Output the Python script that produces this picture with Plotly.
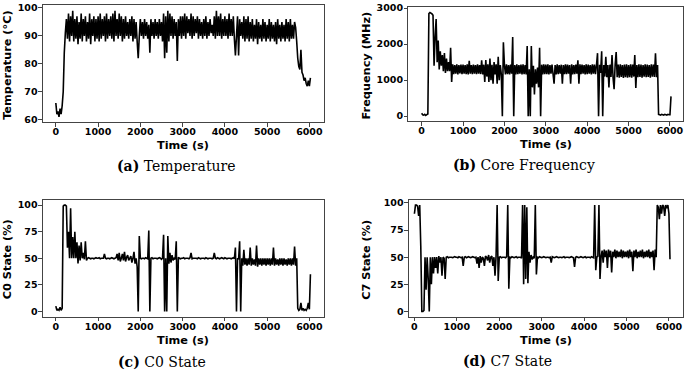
import plotly.graph_objects as go

# ---------------- data (sampled every 25 s) ----------------
STEP_S = 25

temperature = [
    66, 62, 63, 61, 64, 62, 65, 70, 84, 91, 96, 89, 98, 88, 97, 90, 99, 88, 96, 89,
    97, 87, 95, 89, 98, 88, 96, 90, 97, 88, 95, 89, 98, 87, 96, 90, 97, 88, 96, 89,
    97, 88, 98, 89, 96, 90, 97, 88, 98, 89, 96, 90, 97, 89, 98, 88, 99, 90, 96, 89,
    98, 90, 97, 88, 96, 89, 97, 90, 95, 89, 96, 90, 97, 88, 96, 89, 95, 88, 82, 90,
    96, 90, 95, 89, 96, 90, 95, 89, 94, 84, 96, 90, 95, 89, 96, 90, 95, 89, 96, 90,
    95, 88, 98, 82, 97, 84, 99, 88, 98, 90, 97, 89, 96, 90, 95, 81, 96, 90, 97, 89,
    97, 90, 98, 89, 97, 91, 96, 90, 98, 89, 97, 90, 96, 91, 97, 89, 96, 90, 95, 89,
    96, 90, 97, 89, 95, 90, 96, 91, 94, 90, 97, 89, 99, 90, 97, 90, 98, 89, 96, 90,
    97, 90, 96, 89, 98, 90, 96, 90, 97, 89, 83, 90, 97, 83, 96, 90, 95, 89, 97, 88,
    96, 89, 97, 88, 95, 89, 96, 88, 94, 89, 96, 87, 95, 89, 94, 88, 96, 89, 95, 88,
    94, 89, 96, 88, 95, 89, 94, 88, 95, 87, 96, 89, 94, 88, 95, 89, 94, 88, 96, 89,
    95, 88, 96, 89, 94, 89, 95, 93, 88, 82, 79, 78, 85, 77, 76, 74, 75, 73, 72, 74,
    72, 75,
]

frequency = [
    80, 40, 30, 50, 20, 40, 60, 2850, 2880, 2860, 2840, 2800, 1400, 2200, 2700, 1500, 2100, 1300, 1800, 1400,
    1700, 1250, 1750, 1200, 1600, 1250, 1500, 1250, 1900, 950, 1440, 1170, 1420, 1180, 1440, 1160, 1420, 1190, 1430, 1170,
    1430, 1180, 1420, 1170, 1440, 1160, 1540, 1180, 1420, 1170, 1430, 1180, 1420, 1170, 1440, 1180, 1420, 1170, 1550, 1160,
    1430, 950, 1560, 1100, 1440, 950, 1600, 1000, 1430, 900, 1500, 1160, 1440, 900, 1650, 1000, 1420, 1160, 0, 2050,
    1430, 1160, 1440, 1170, 1420, 1160, 1430, 1180, 2200, 0, 1420, 1160, 1440, 1170, 1420, 1180, 1430, 1160, 1440, 1170,
    1420, 1160, 1950, 0, 1300, 0, 1950, 800, 1400, 600, 1300, 900, 1350, 800, 1900, 0, 1430, 1160, 1440, 1170,
    1430, 1170, 1440, 1160, 1420, 1180, 1430, 1170, 900, 1420, 1160, 1440, 1170, 1420, 1180, 1430, 900, 1420, 1170, 1440,
    1170, 1430, 1180, 1420, 900, 1440, 1160, 1420, 1170, 1430, 1180, 1550, 900, 1440, 1170, 1430, 1180, 1420, 1160, 1440,
    1170, 1430, 1180, 1420, 1160, 1440, 1180, 1430, 1170, 1420, 1750, 0, 1430, 1200, 1800, 0, 1420, 1100, 1650, 1080,
    1420, 800, 1430, 1090, 1700, 1070, 750, 1420, 1780, 1080, 1430, 1070, 1440, 1090, 1420, 1060, 1430, 1080, 1440, 1070,
    1420, 1080, 1440, 1070, 1430, 1100, 1700, 780, 1420, 1080, 1440, 1090, 1430, 1070, 1420, 1100, 1440, 1080, 1430, 1090,
    1420, 1070, 1440, 1100, 1430, 1090, 1750, 1080, 1420, 50, 40, 30, 50, 40, 30, 50, 40, 30, 50, 40,
    40, 550,
]

c0_state = [
    5, 1, 2, 1, 4, 1, 3, 99, 100, 100, 99, 60, 75, 50, 97, 50, 70, 50, 75, 50,
    65, 45, 62, 48, 65, 50, 55, 49, 66, 48, 50, 50.5, 50, 49.5, 50, 50, 49.5, 50, 50.5, 50,
    50, 50.5, 49.5, 50, 50, 50, 54, 50, 49.5, 50, 50, 49.5, 50, 50.5, 50, 49.5, 50, 50.5, 54, 48,
    55, 47, 50, 54, 48, 56, 47, 51, 53, 48, 50, 52, 46, 50, 56, 45, 50, 42, 0, 71,
    50, 49.5, 50, 50, 49.5, 50.5, 50, 49.5, 76, 0, 50, 50.5, 49.5, 50, 50, 50, 49.5, 50, 50.5, 50,
    49, 50, 72, 0, 50, 0, 71, 45, 55, 46, 53, 48, 50, 49, 66, 0, 51, 50, 49.5, 50,
    50, 50.5, 49.5, 50, 50, 50, 49.5, 50.5, 55, 49.5, 50, 50, 50, 50, 49.5, 50.5, 50, 49.5, 50, 50,
    50, 49.5, 50.5, 50, 49.5, 50, 50, 50, 49.5, 50, 55, 50, 49.5, 50.5, 50, 49.5, 50, 50.5, 50, 49.5,
    50.5, 50, 49.5, 50, 50, 50, 49.5, 50, 50.5, 49.5, 60, 0, 50, 49, 66, 0, 50, 43, 58, 44,
    50, 43, 50, 44, 60, 43, 50, 44, 49, 43, 62, 42, 50, 44, 50, 43, 50, 44, 50, 43,
    50, 44, 50, 43, 50, 44, 60, 43, 50, 44, 49, 43, 50, 44, 50, 43, 50, 44, 49, 43,
    50, 44, 50, 43, 50, 44, 61, 43, 50, 3, 1, 2, 8, 1, 3, 1, 2, 1, 3, 8,
    2, 35,
]

c7_state = [
    90, 98, 98, 97, 88, 98, 60, 0, 0, 1, 50, 20, 50, 30, 0, 50, 25, 50, 35, 50,
    40, 50, 35, 51, 45, 50, 33, 50, 49, 30, 50, 50.5, 49.5, 50, 50, 50, 49.5, 50, 50.5, 50,
    50, 49.5, 50.5, 50, 49.5, 50, 42, 50, 50.5, 49.5, 50, 50.5, 50, 49.5, 50, 50.5, 50, 49.5, 50, 44,
    50, 40, 51, 45, 50, 49, 42, 51, 50, 47, 52, 45, 50, 51, 42, 50, 33, 51, 98, 28,
    50, 50.5, 49.5, 50, 50, 50, 49.5, 50.5, 98, 21, 50, 49.5, 50.5, 50, 49.5, 50, 50.5, 49.5, 50, 50,
    50, 49, 98, 25, 98, 30, 96, 26, 55, 45, 52, 48, 50, 49, 98, 34, 50, 49.5, 50.5, 50,
    49.5, 50, 50.5, 50, 49.5, 50, 50, 49.5, 50, 45, 50.5, 50, 49.5, 50, 50.5, 50, 49.5, 50, 50, 49.5,
    50, 50.5, 49.5, 50, 50, 50, 49.5, 50, 50.5, 50, 49.5, 41, 50, 50.5, 50, 49.5, 50, 50.5, 50, 49.5,
    50, 50.5, 49.5, 50, 50, 50, 49.5, 50.5, 50, 49.5, 98, 38, 50, 51, 98, 30, 50, 56, 45, 57,
    50, 56, 40, 57, 50, 56, 36, 55, 50, 57, 49, 56, 50, 55, 50, 57, 49, 56, 50, 55,
    50, 56, 49, 57, 50, 55, 37, 56, 50, 57, 49, 55, 50, 56, 50, 57, 49, 55, 50, 56,
    50, 57, 49, 55, 50, 56, 38, 57, 50, 98, 96, 85, 98, 90, 98, 97, 88, 98, 95, 98,
    90, 48,
]

x_ticks = [0, 1000, 2000, 3000, 4000, 5000, 6000]
temp_ticks = [60, 70, 80, 90, 100]
freq_ticks = [0, 1000, 2000, 3000]
state_ticks = [0, 25, 50, 75, 100]

x_title = "Time (s)"
y_titles = ["Temperature (°C)", "Frequency (MHz)", "C0 State (%)", "C7 State (%)"]
captions = [("(a)", "Temperature"), ("(b)", "Core Frequency"),
            ("(c)", "C0 State"), ("(d)", "C7 State")]

# ---------------- layout ----------------
W, H = 685, 375


def fx(px):
    return px / W


def fy(py):
    return 1 - py / H


def times(vals):
    return [STEP_S * i for i in range(len(vals))]


panels = [
    dict(vals=temperature, box=(43, 1.5, 324, 120.5), xr=[-305, 6335], yr=[59.1, 100.9],
         yt=temp_ticks, ytx=8, xtitle_y=144, cap=(177, 165)),
    dict(vals=frequency, box=(409, 2.6, 684, 119.6), xr=[-320, 6315], yr=[-145, 3045],
         yt=freq_ticks, ytx=367, xtitle_y=143.5, cap=(525, 164)),
    dict(vals=c0_state, box=(43, 199.5, 324, 318.7), xr=[-305, 6335], yr=[-5, 105],
         yt=state_ticks, ytx=7, xtitle_y=342.7, cap=(162.5, 365)),
    dict(vals=c7_state, box=(409.5, 199.5, 683.5, 318.7), xr=[-130, 6320], yr=[-4.9, 102.9],
         yt=state_ticks, ytx=367, xtitle_y=342.7, cap=(508, 364)),
]

fig = go.Figure()
tickfont = dict(family="DejaVu Sans", size=9.5, color="black", weight="bold")
annotations = []

for i, p in enumerate(panels, start=1):
    sx = "" if i == 1 else str(i)
    x0, y0, x1, y1 = p["box"]
    fig.add_trace(go.Scatter(
        x=times(p["vals"]), y=p["vals"], mode="lines",
        line=dict(color="black", width=1.6, simplify=False),
        xaxis="x" + sx, yaxis="y" + sx, showlegend=False, hoverinfo="skip"))
    common = dict(showline=True, linecolor="#444", linewidth=1, mirror=True,
                  ticks="outside", ticklen=3.5, tickwidth=1, tickcolor="#444",
                  showgrid=False, zeroline=False, tickfont=tickfont)
    fig.layout["xaxis" + sx] = dict(
        domain=[fx(x0), fx(x1)], range=p["xr"], anchor="y" + sx,
        tickvals=x_ticks, ticktext=[str(v) for v in x_ticks],
        ticklabelstandoff=-3, **common)
    fig.layout["yaxis" + sx] = dict(
        domain=[fy(y1), fy(y0)], range=p["yr"], anchor="x" + sx,
        tickvals=p["yt"], ticktext=[str(v) for v in p["yt"]],
        ticklabelstandoff=-1, **common)
    cx = (x0 + x1) / 2
    cy = (y0 + y1) / 2
    annotations.append(dict(
        text="<b>%s</b>" % x_title, x=fx(cx), y=fy(p["xtitle_y"]), xref="paper", yref="paper",
        xanchor="center", yanchor="middle", showarrow=False,
        font=dict(family="DejaVu Sans", size=11.3, color="black")))
    annotations.append(dict(
        text="<b>%s</b>" % y_titles[i - 1], x=fx(p["ytx"]), y=fy(cy + 1), xref="paper", yref="paper",
        xanchor="center", yanchor="middle", showarrow=False, textangle=-90,
        font=dict(family="DejaVu Sans", size=11.3, color="black")))
    lab, name = captions[i - 1]
    annotations.append(dict(
        text="<b>%s</b> %s" % (lab, name), x=fx(p["cap"][0]), y=fy(p["cap"][1]),
        xref="paper", yref="paper", xanchor="center", yanchor="middle", showarrow=False,
        font=dict(family="DejaVu Serif", size=14, color="black")))

fig.update_layout(
    width=W, height=H, margin=dict(l=0, r=0, t=0, b=0),
    paper_bgcolor="white", plot_bgcolor="white",
    annotations=annotations,
)

fig.write_html(
    "out.html",
    config={"displayModeBar": False, "staticPlot": True},
    post_script="document.body.style.margin='0';document.body.style.overflow='hidden';",
)
